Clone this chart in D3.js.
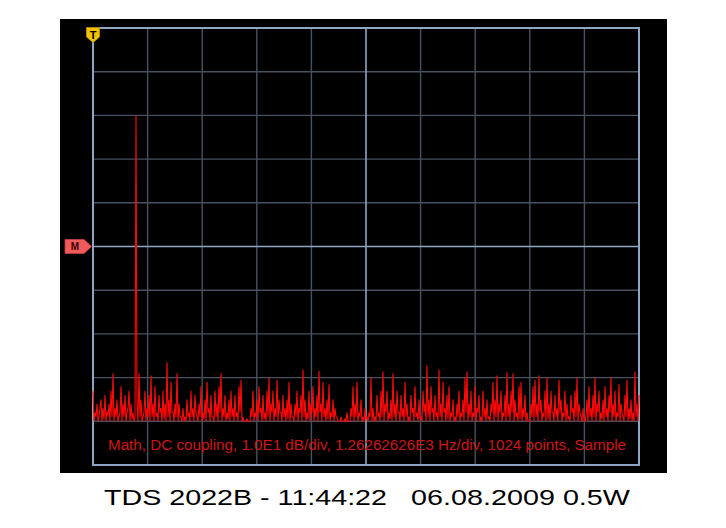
<!DOCTYPE html>
<html>
<head>
<meta charset="utf-8">
<script src="https://cdn.jsdelivr.net/npm/d3@7"></script>
<style>
  html, body { margin: 0; padding: 0; background: #ffffff; }
  svg { display: block; }
</style>
</head>
<body>
<svg id="chart" width="726" height="528"></svg>
<script>
// ---- data ----
const spanHz = 12626.2626;          // 10 div x 1.26262626E3 Hz/div
const dbPerDiv = 10;
const xDivisions = [0,1,2,3,4,5,6,7,8,9,10];
const yDivisions = [-5,-4,-3,-2,-1,0,1,2,3,4,5];
const captionText = "Math, DC coupling, 1.0E1 dB/div, 1.26262626E3 Hz/div, 1024 points, Sample";
const titleParts = ["TDS 2022B - 11:44:22", "06.08.2009 0.5W"];
// spectrum magnitude, dB (relative to the M reference level), one point per screen column
const spectrumDb = [
 -33,-40,-38,-39,-36,-40,-39,-37,-35,-40,-37,-39.5,-34,-40,-38,-38.5,-36,-40,-33,-39,
 -29,-40,-37,-39,-35,-40,-39,-38,-32,-40,-36,-39,-34,-40,-38,-37,-33,-40,-36,-39.5,
 -38,-40,-39,30,-36,-40,-29,-39,-35,-40,-39,-38,-33,-40,-37,-39,-34,-40,-29.5,-39,
 -36,-40,-32,-39,-38,-40,-34,-38,-37,-40,-33,-39.5,-36,-40,-26.5,-39,-35,-40,-31,-38,
 -38,-40,-36,-39,-29,-40,-36,-39,-39,-40,-37,-40,-39,-40,-35,-39,-38,-40,-33,-39,
 -37,-40,-34,-38,-39,-40,-36,-39,-32,-40,-38,-39.5,-35,-40,-31,-38,-37,-40,-34,-39,
 -39,-40,-33,-39,-36,-40,-32,-38,-29,-40,-37,-39,-34,-40,-38,-39.5,-35,-40,-33,-39,
 -37,-40,-34,-39,-38,-40,-32,-38,-30.5,-40,-39,-40,-40,-40,-39.5,-40,-40,-40,-37,-39,
 -33,-40,-38,-39,-35,-40,-32,-38,-37,-40,-34,-39.5,-38,-40,-33,-39,-30,-40,-36,-38,
 -33,-40,-37,-39,-30.5,-40,-35,-38,-38,-40,-34,-39,-37,-40,-35,-39.5,-31,-40,-36,-39,
 -39,-40,-36,-39,-33,-40,-37,-38,-34,-40,-28.2,-39,-35,-40,-38,-39.5,-33,-40,-36,-38,
 -32,-40,-37,-39,-34,-40,-28.5,-38,-36,-40,-31,-39,-37,-40,-35,-39.5,-31.5,-40,-38,-39,
 -35,-40,-37,-39,-39,-40,-40,-40,-39,-40,-40,-40,-39.5,-40,-38,-40,-40,-40,-37,-39,
 -32,-40,-36,-39,-31,-40,-38,-39,-35,-40,-39,-40,-37,-39.5,-39,-40,-38,-39,-30,-40,
 -37,-40,-39,-40,-34,-39,-38,-40,-33,-39,-28.6,-40,-36,-38,-33,-40,-38,-39.5,-35,-40,
 -29,-39,-36,-40,-33,-38,-38,-40,-34,-39,-37,-40,-31,-39,-36,-40,-39,-40,-34,-38,
 -37,-40,-32,-39,-38,-40,-35,-39.5,-39,-40,-33,-38,-36,-40,-27.2,-39,-35,-40,-32,-38,
 -37,-40,-34,-39,-38,-40,-28.2,-39,-36,-40,-31,-38,-37,-40,-34,-39.5,-32,-40,-38,-39,
 -35,-40,-39,-40,-36,-39,-33,-40,-38,-39,-35,-40,-30,-38,-28.6,-40,-36,-39,-33,-40,
 -38,-39,-32,-40,-37,-38,-34,-40,-39,-40,-33,-39,-37,-40,-35,-39.5,-39,-40,-36,-38,
 -31,-40,-35,-39,-29.5,-40,-36,-38,-33,-40,-38,-39,-34,-40,-28.8,-39,-36,-40,-33,-38,
 -29,-40,-35,-39,-38,-40,-32,-39.5,-31,-40,-37,-39,-34,-40,-38,-40,-40,-40,-36,-39,
 -32,-40,-30.5,-39,-36,-40,-29.5,-38,-35,-40,-38,-39,-33,-40,-30,-39.5,-36,-40,-33,-38,
 -38,-40,-34,-39,-37,-40,-30.5,-38,-35,-40,-38,-39,-33,-40,-36,-39.5,-39,-40,-34,-38,
 -37,-40,-33,-39,-30,-40,-36,-38,-39,-40,-37,-40,-40,-39,-35,-40,-32,-39,-37,-40,
 -34,-39,-30,-40,-36,-38,-33,-40,-38,-39.5,-35,-40,-32,-39,-37,-40,-34,-38,-30,-40,
 -36,-39,-33,-40,-38,-39,-31.5,-40,-36,-38,-39,-40,-34,-39,-30.5,-40,-37,-39.5,-35,-40,
 -38,-40,-28.6,-39,-36,-40,-34
];

// ---- layout ----
const svg = d3.select("#chart");
const screen = {x0: 60, y0: 19, x1: 667, y1: 473};
const plot = {left: 93, top: 28, right: 639, bottom: 465};

const xScale = d3.scaleLinear().domain([0, spanHz]).range([plot.left, plot.right]);
const yScale = d3.scaleLinear().domain([-5 * dbPerDiv, 5 * dbPerDiv]).range([plot.bottom, plot.top]);
const freqOf = i => i * spanHz / (spectrumDb.length - 1);

svg.append("rect")
  .attr("x", screen.x0).attr("y", screen.y0)
  .attr("width", screen.x1 - screen.x0).attr("height", screen.y1 - screen.y0)
  .attr("fill", "#000000");

// grid
const g = svg.append("g");
g.selectAll("line.vx").data(xDivisions.filter(d => d > 0 && d < 10 && d !== 5)).join("line")
  .attr("x1", d => xScale(d * spanHz / 10)).attr("x2", d => xScale(d * spanHz / 10))
  .attr("y1", plot.top).attr("y2", plot.bottom)
  .attr("stroke", "#46525f").attr("stroke-width", 1.4);
g.selectAll("line.hy").data(yDivisions.filter(d => d > -5 && d < 5 && d !== 0)).join("line")
  .attr("y1", d => yScale(d * dbPerDiv)).attr("y2", d => yScale(d * dbPerDiv))
  .attr("x1", plot.left).attr("x2", plot.right)
  .attr("stroke", "#46525f").attr("stroke-width", 1.4);
// center lines
g.append("line")
  .attr("x1", xScale(spanHz / 2)).attr("x2", xScale(spanHz / 2))
  .attr("y1", plot.top).attr("y2", plot.bottom)
  .attr("stroke", "#8ea6c2").attr("stroke-width", 1.6);
g.append("line")
  .attr("y1", yScale(0)).attr("y2", yScale(0))
  .attr("x1", plot.left).attr("x2", plot.right)
  .attr("stroke", "#8ea6c2").attr("stroke-width", 1.6);
// border
g.append("rect")
  .attr("x", plot.left).attr("y", plot.top)
  .attr("width", plot.right - plot.left).attr("height", plot.bottom - plot.top)
  .attr("fill", "none").attr("stroke", "#8ea6c2").attr("stroke-width", 2);

// trace
const line = d3.line()
  .x((d, i) => xScale(freqOf(i)))
  .y(d => yScale(d));
svg.append("path")
  .datum(spectrumDb)
  .attr("d", line)
  .attr("fill", "none")
  .attr("stroke", "#ff0808")
  .attr("stroke-width", 1.1)
  .attr("stroke-linejoin", "miter");

// caption
svg.append("text")
  .attr("x", 108).attr("y", 450)
  .attr("font-family", "Liberation Sans, Arial, sans-serif")
  .attr("font-size", 14)
  .attr("textLength", 518).attr("lengthAdjust", "spacingAndGlyphs")
  .attr("fill", "#d11515")
  .text(captionText);

// T marker
const tx = plot.left, ty = plot.top;
svg.append("path")
  .attr("d", `M${tx-6.5},${ty-0.5} L${tx+6.5},${ty-0.5} L${tx+6.5},${ty+9} L${tx},${ty+14.5} L${tx-6.5},${ty+9} Z`)
  .attr("fill", "#f2c200").attr("stroke", "#b08800").attr("stroke-width", 1);
svg.append("text")
  .attr("x", tx).attr("y", ty + 10.5)
  .attr("text-anchor", "middle")
  .attr("font-family", "Liberation Sans, Arial, sans-serif")
  .attr("font-weight", "bold").attr("font-size", 11)
  .attr("fill", "#000").text("T");

// M marker
const my = yScale(0);
svg.append("path")
  .attr("d", `M65,${my-7} L84,${my-7} L91.5,${my} L84,${my+7} L65,${my+7} Z`)
  .attr("fill", "#ef5a5a").attr("stroke", "#c83c3c").attr("stroke-width", 0.8);
svg.append("text")
  .attr("x", 75).attr("y", my + 3.8)
  .attr("text-anchor", "middle")
  .attr("font-family", "Liberation Sans, Arial, sans-serif")
  .attr("font-weight", "bold").attr("font-size", 10)
  .attr("fill", "#3a0000").text("M");

// title (two parts)
const titlePos = [{x: 104, w: 283}, {x: 411, w: 219}];
svg.selectAll("text.title").data(titleParts).join("text")
  .attr("class", "title")
  .attr("x", (d, i) => titlePos[i].x).attr("y", 505)
  .attr("font-family", "Liberation Sans, Arial, sans-serif")
  .attr("font-size", 22)
  .attr("textLength", (d, i) => titlePos[i].w).attr("lengthAdjust", "spacingAndGlyphs")
  .attr("fill", "#000")
  .text(d => d);
</script>
</body>
</html>
